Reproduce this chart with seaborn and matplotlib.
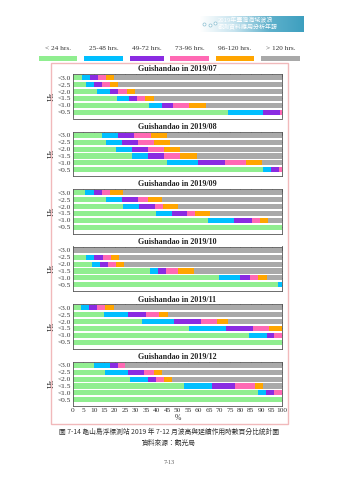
import numpy as np
import pandas as pd
import seaborn as sns
import matplotlib
matplotlib.use("Agg")
import matplotlib.pyplot as plt
from matplotlib.patches import Rectangle

# ---- data -----------------------------------------------------------------
hs_levels = ["<3.0", "<2.5", "<2.0", "<1.5", "<1.0", "<0.5"]
duration_labels = ["< 24 hrs.", "25-48 hrs.", "49-72 hrs.", "73-96 hrs.",
                   "96-120 hrs.", "> 120 hrs."]
duration_colors = ["#90EE90", "#00BFFF", "#8A2BE2", "#FF69B4", "#FFA500", "#A9A9A9"]
months = ["2019/07", "2019/08", "2019/09", "2019/10", "2019/11", "2019/12"]
x_ticks = list(range(0, 101, 5))

# percentage of time per duration class; one row per Hs level
pct_07 = [[4.1, 4.0, 3.7, 4.0, 4.0, 80.2],
          [6.2, 3.8, 4.0, 3.9, 3.8, 78.3],
          [11.3, 6.4, 4.0, 4.0, 4.0, 70.3],
          [20.9, 6.1, 3.6, 3.8, 4.2, 61.4],
          [36.4, 6.2, 5.2, 7.7, 8.0, 36.5],
          [74.0, 17.0, 7.9, 1.1, 0.0, 0.0]]
pct_08 = [[14.0, 7.7, 7.6, 8.0, 7.5, 55.2],
          [15.8, 7.6, 7.9, 7.5, 7.8, 53.4],
          [20.4, 7.7, 7.8, 7.6, 7.7, 48.8],
          [28.1, 7.8, 7.6, 7.7, 8.0, 40.8],
          [44.8, 15.0, 12.9, 10.1, 7.8, 9.4],
          [91.1, 3.8, 3.8, 1.3, 0.0, 0.0]]
pct_09 = [[5.9, 4.0, 3.8, 4.0, 6.1, 76.2],
          [15.6, 7.7, 7.8, 4.8, 6.7, 57.4],
          [23.8, 7.6, 7.8, 4.0, 7.0, 49.8],
          [39.7, 7.7, 7.3, 3.8, 7.2, 34.3],
          [64.6, 12.4, 8.6, 3.9, 4.0, 6.5],
          [100.0, 0.0, 0.0, 0.0, 0.0, 0.0]]
pct_10 = [[0.0, 0.0, 0.0, 0.0, 0.0, 100.0],
          [6.4, 3.8, 4.2, 3.6, 4.0, 78.0],
          [9.1, 3.8, 3.8, 3.9, 4.0, 75.4],
          [36.7, 3.8, 3.8, 5.9, 7.9, 41.9],
          [69.9, 10.0, 4.9, 3.9, 4.0, 7.3],
          [97.9, 2.1, 0.0, 0.0, 0.0, 0.0]]
pct_11 = [[3.8, 3.9, 3.9, 3.9, 4.1, 80.4],
          [14.7, 11.6, 8.5, 6.3, 4.2, 54.7],
          [33.0, 15.3, 12.8, 7.8, 5.3, 25.8],
          [55.7, 17.7, 12.9, 7.5, 6.2, 0.0],
          [84.2, 8.5, 3.6, 3.7, 0.0, 0.0],
          [100.0, 0.0, 0.0, 0.0, 0.0, 0.0]]
pct_12 = [[10.0, 7.7, 4.0, 3.2, 0.0, 75.1],
          [15.3, 11.0, 7.7, 4.9, 3.8, 57.3],
          [27.1, 8.8, 3.8, 3.8, 4.0, 52.5],
          [53.1, 13.6, 10.8, 9.7, 3.9, 8.9],
          [88.4, 3.8, 4.1, 3.7, 0.0, 0.0],
          [100.0, 0.0, 0.0, 0.0, 0.0, 0.0]]
tables = [pct_07, pct_08, pct_09, pct_10, pct_11, pct_12]

caption = "圖 7-14 龜山島浮標測站 2019 年 7-12 月波高與延續作用時數百分比統計圖"
source = "資料來源：觀光局"
page_no = "7-13"
banner_lines = ["2019年臺灣海域波浪", "觀測資料應用分析年報"]

# ---- figure -----------------------------------------------------------------
sns.set_theme(style="white")
plt.rcParams["font.family"] = ["Liberation Serif", "DejaVu Serif"]
cjk = ["Noto Sans CJK TC", "DejaVu Sans"]

W, H = 339, 480
fig = plt.figure(figsize=(W / 100, H / 100), dpi=100)
fig.patch.set_facecolor("white")


def fx(px):
    return px / W


def fy(py):
    return 1 - py / H


# header banner with a soft gradient
bax = fig.add_axes([fx(200), fy(32), fx(104), 16 / H])
grad = np.linspace(0, 1, 256)[None, :]
cmap = matplotlib.colors.LinearSegmentedColormap.from_list(
    "band", ["#ffffff", "#c6e3ee", "#5fb1cc", "#3d9fbf"])
bax.imshow(grad, aspect="auto", cmap=cmap, extent=[0, 1, 0, 1])
bax.set_xlim(0, 1)
bax.set_ylim(0, 1)
bax.set_axis_off()
for k, line in enumerate(banner_lines):
    bax.text(0.17, 0.72 - k * 0.42, line, color="white", fontsize=4.3,
             family=cjk, va="center", ha="left", transform=bax.transAxes)
bax.plot([0.04, 0.10, 0.145], [0.5, 0.42, 0.58], "o", ms=2.2, mfc="white",
         mec="#8cc0d2", mew=0.5, clip_on=False)

# legend: labels above colour swatches
swatches = [(39, 77), (84, 123), (130, 164), (170, 209), (216, 254), (261, 300)]
for (x0, x1), lab, col in zip(swatches, duration_labels, duration_colors):
    fig.patches.append(Rectangle((fx(x0), fy(61)), fx(x1 - x0), 5 / H,
                                 transform=fig.transFigure, facecolor=col,
                                 edgecolor="none"))
    fig.text(fx((x0 + x1) / 2), fy(48), lab, ha="center", va="center",
             fontsize=5.2, color="#333333")

# pink frame around the panels
fig.patches.append(Rectangle((fx(50.5), fy(424)), fx(237.5), 361 / H,
                             transform=fig.transFigure, facecolor="none",
                             edgecolor="#f1b9bb", lw=1.0))

# stacked horizontal bars, one panel per month
for i, (month, table) in enumerate(zip(months, tables)):
    top = 74 + 57.5 * i
    ax = fig.add_axes([fx(73), fy(top + 44.5), fx(209), 44.5 / H])
    df = pd.DataFrame(table, columns=duration_labels)
    cum = df.cumsum(axis=1)
    cum["Hs"] = hs_levels
    for k in reversed(range(len(duration_labels))):
        sns.barplot(data=cum, x=duration_labels[k], y="Hs", order=hs_levels,
                    orient="h", color=duration_colors[k], saturation=1,
                    width=0.75, errorbar=None, linewidth=0, ax=ax)
    ax.set_xlim(0, 100)
    ax.set_ylim(5.9, -0.55)
    ax.set_xticks(x_ticks)
    ax.set_title(f"Guishandao in {month}", fontsize=5.8, fontweight="bold",
                 pad=1.8, color="#222222")
    ax.set_ylabel("Hs", fontsize=6, labelpad=1, color="#222222")
    ax.set_xlabel("")
    ax.tick_params(direction="in", top=True, right=True, length=2.2,
                   width=0.5, pad=1.5, labelsize=5.3, colors="#333333")
    for sp in ax.spines.values():
        sp.set_color("#555555")
        sp.set_linewidth(0.6)
    if i < len(months) - 1:
        ax.set_xticklabels([])
    else:
        ax.set_xticklabels([str(t) for t in x_ticks])
        ax.set_xlabel("%", fontsize=5.5, labelpad=1, color="#333333")

# caption block
fig.text(fx(169), fy(432), caption, family=cjk, fontsize=4.85, ha="center",
         va="center", color="#333333")
fig.text(fx(169), fy(442.5), source, family=cjk, fontsize=4.85, ha="center",
         va="center", color="#333333")
fig.text(fx(169), fy(462), page_no, fontsize=4.3, ha="center", va="center",
         color="#555555")

fig.savefig("out.png", dpi=100, facecolor="white")
